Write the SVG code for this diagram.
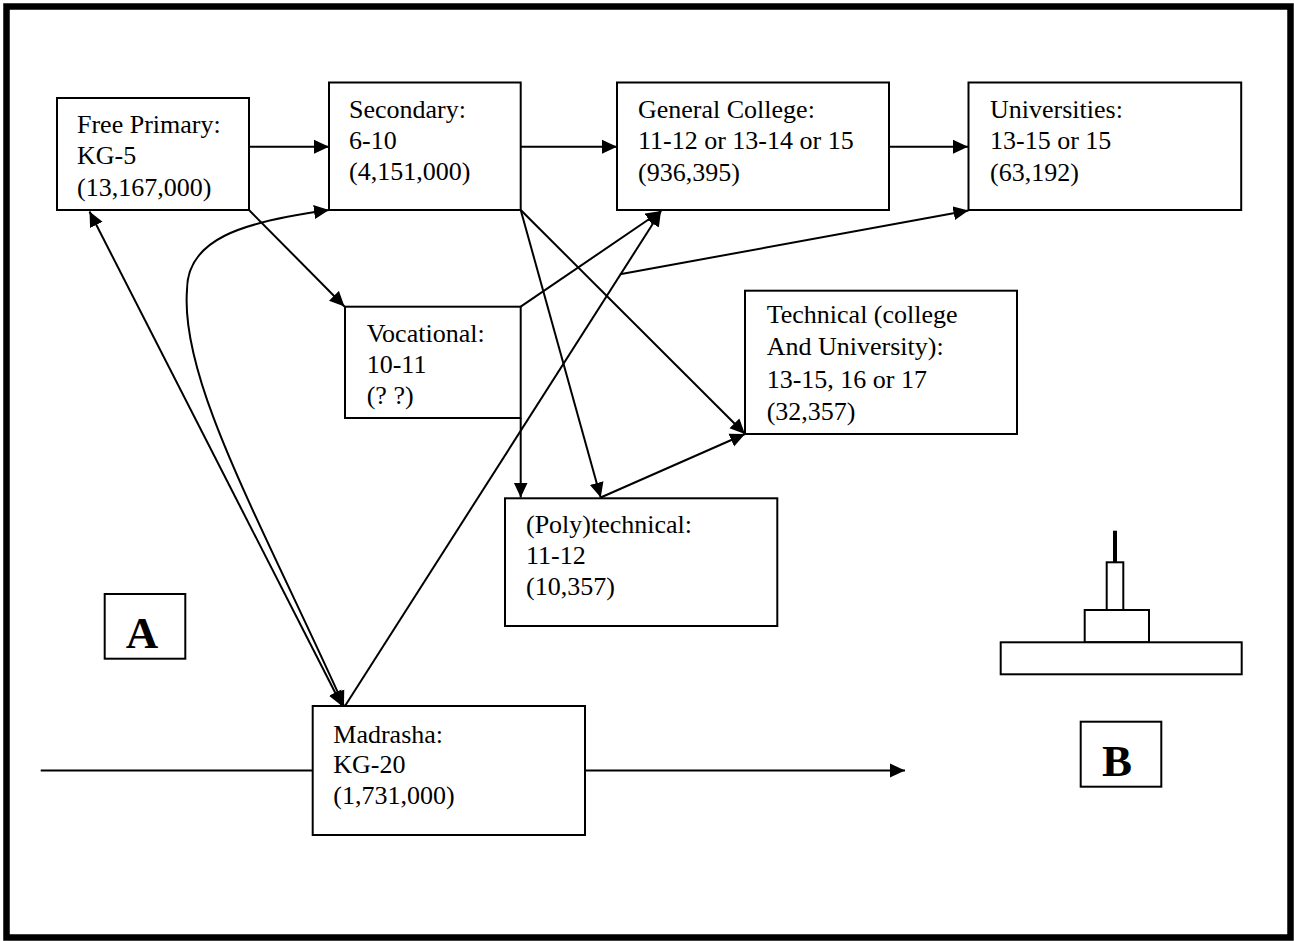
<svg xmlns="http://www.w3.org/2000/svg" width="1294" height="941" viewBox="0 0 1294 941">
<style>
.box{fill:#fff;stroke:#000;stroke-width:2}
.t{font-family:"Liberation Serif","Times New Roman",serif;font-size:26px;fill:#000}
.lbl{font-family:"Liberation Serif","Times New Roman",serif;font-size:45px;font-weight:bold;fill:#000;text-anchor:middle}
.c{fill:none;stroke:#000;stroke-width:2}
</style>
<defs>
<marker id="ah" markerUnits="userSpaceOnUse" markerWidth="16" markerHeight="16" viewBox="0 0 16 16" refX="15" refY="7.5" orient="auto-start-reverse">
<path d="M0,0.5 L15,7.5 L0,14.5 z" fill="#000"/>
</marker>
</defs>
<rect x="0" y="0" width="1294" height="941" fill="#fff"/>
<rect id="frame" x="6.5" y="6.5" width="1284" height="931" fill="none" stroke="#000" stroke-width="6.5"/>

<g id="connectors">
<path class="c" d="M249,146.7 L329,146.7" marker-end="url(#ah)"/>
<path class="c" d="M520.7,146.7 L617,146.7" marker-end="url(#ah)"/>
<path class="c" d="M889,146.7 L968,146.7" marker-end="url(#ah)"/>
<path class="c" d="M249,210 L344.5,306.5" marker-end="url(#ah)"/>
<path class="c" d="M342,706 L89.5,211.5" marker-start="url(#ah)" marker-end="url(#ah)"/>
<path class="c" d="M344,706 C260,520 180,380 187,290 C187,240 240,222 329,210" marker-start="url(#ah)" marker-end="url(#ah)"/>
<path class="c" d="M345,706 L661,211" marker-end="url(#ah)"/>
<path class="c" d="M520.7,306.7 L661,211" marker-end="url(#ah)"/>
<path class="c" d="M520.7,210 L745,434" marker-end="url(#ah)"/>
<path class="c" d="M520.7,210 L600.7,497.5" marker-end="url(#ah)"/>
<path class="c" d="M520.7,418 L520.7,497.5" marker-end="url(#ah)"/>
<path class="c" d="M600.7,497.5 L745,434" marker-end="url(#ah)"/>
<path class="c" d="M620,274.3 L968.5,210.5" marker-end="url(#ah)"/>
<path class="c" d="M40.7,770.5 L312.7,770.5"/>
<path class="c" d="M585,770.5 L905,770.5" marker-end="url(#ah)"/>
</g>

<g id="free-primary">
<rect class="box" x="57" y="98" width="192" height="112"/>
<text class="t" x="77" y="133.3">Free Primary:</text>
<text class="t" x="77" y="164.3">KG-5</text>
<text class="t" x="77" y="195.5">(13,167,000)</text>
</g>
<g id="secondary">
<rect class="box" x="329" y="82.5" width="191.7" height="127.5"/>
<text class="t" x="349" y="118.3">Secondary:</text>
<text class="t" x="349" y="149.3">6-10</text>
<text class="t" x="349" y="180.3">(4,151,000)</text>
</g>
<g id="general-college">
<rect class="box" x="617" y="82.5" width="272" height="127.5"/>
<text class="t" x="638" y="118.3">General College:</text>
<text class="t" x="638" y="149.3">11-12 or 13-14 or 15</text>
<text class="t" x="638" y="180.5">(936,395)</text>
</g>
<g id="universities">
<rect class="box" x="968.5" y="82.5" width="272.7" height="127.5"/>
<text class="t" x="990" y="118.3">Universities:</text>
<text class="t" x="990" y="149.3">13-15 or 15</text>
<text class="t" x="990" y="180.5">(63,192)</text>
</g>
<g id="vocational">
<rect class="box" x="345" y="306.7" width="175.7" height="111.3"/>
<text class="t" x="366.7" y="341.7">Vocational:</text>
<text class="t" x="366.7" y="372.7">10-11</text>
<text class="t" x="366.7" y="404">(? ?)</text>
</g>
<g id="technical">
<rect class="box" x="745" y="290.7" width="272" height="143.3"/>
<text class="t" x="766.7" y="323.3">Technical (college</text>
<text class="t" x="766.7" y="355">And University):</text>
<text class="t" x="766.7" y="388">13-15, 16 or 17</text>
<text class="t" x="766.7" y="420">(32,357)</text>
</g>
<g id="polytechnical">
<rect class="box" x="505" y="498.3" width="272.3" height="127.7"/>
<text class="t" x="526" y="532.7">(Poly)technical:</text>
<text class="t" x="526" y="564">11-12</text>
<text class="t" x="526" y="595">(10,357)</text>
</g>
<g id="madrasha">
<rect class="box" x="312.7" y="706" width="272.3" height="129"/>
<text class="t" x="333.3" y="742.7">Madrasha:</text>
<text class="t" x="333.3" y="773.3">KG-20</text>
<text class="t" x="333.3" y="804">(1,731,000)</text>
</g>
<g id="label-a">
<rect class="box" x="104.7" y="594" width="80.6" height="64.7"/>
<text class="lbl" x="142" y="648.3">A</text>
</g>
<g id="label-b">
<rect class="box" x="1080.7" y="721.7" width="80.6" height="65"/>
<text class="lbl" x="1117" y="776">B</text>
</g>
<g id="structure">
<line x1="1115" y1="530.7" x2="1115" y2="562.3" stroke="#000" stroke-width="4"/>
<rect class="box" x="1106.7" y="562.3" width="16.6" height="47.7"/>
<rect class="box" x="1084.7" y="610" width="64.3" height="32.3"/>
<rect class="box" x="1000.7" y="642.3" width="241" height="32"/>
</g>
</svg>
